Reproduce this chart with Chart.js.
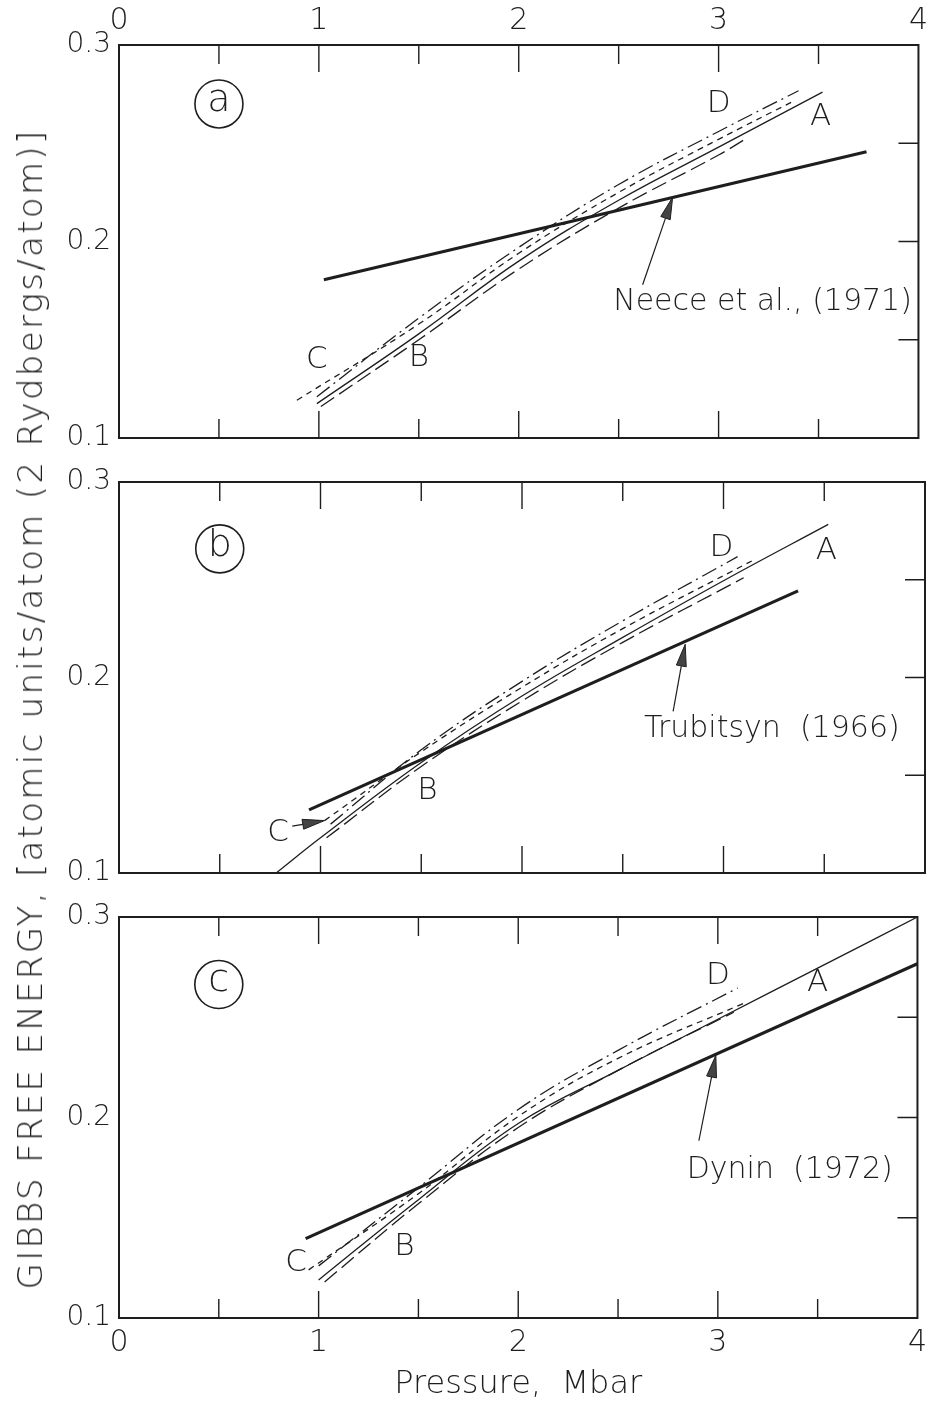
<!DOCTYPE html>
<html>
<head>
<meta charset="utf-8">
<title>Gibbs free energy vs pressure</title>
<script src="https://cdn.jsdelivr.net/npm/chart.js@4.4.0/dist/chart.umd.min.js"></script>
<style>
  html, body { margin: 0; padding: 0; background: #fff; }
  #page { position: relative; width: 937px; height: 1405px; overflow: hidden; background: #fff; }
  #page canvas { position: absolute; left: 0; }
  #yTitle {
    position: absolute; left: 30px; top: 709px;
    transform: translate(-50%, -50%) rotate(-90deg);
    white-space: nowrap; color: #1e1e1e;
    font: 200 34px 'DejaVu Sans', sans-serif;
    letter-spacing: 2.3px;
  }
</style>
</head>
<body>
<div id="page">
  <canvas id="panelA" width="937" height="460" style="top:0"></canvas>
  <canvas id="panelB" width="937" height="435" style="top:460px"></canvas>
  <canvas id="panelC" width="937" height="510" style="top:895px"></canvas>
  <div id="yTitle">GIBBS FREE ENERGY, [atomic units/atom (2 Rydbergs/atom)]</div>
</div>
<script>
// axis ticks: pressure in Mbar, energy in Ry/atom
const pressureLabels = [0, 1, 2, 3, 4];
const energyLabels = [0.1, 0.2, 0.3];

// (a) against Neece et al. (1971)
const aRefP = [1.025, 3.74];
const aRefG = [0.1805, 0.2457];
const aCurveAP = [0.99, 1.5, 2.0, 2.5, 3.0, 3.52];
const aCurveAG = [0.1175, 0.153, 0.190, 0.221, 0.248, 0.276];
const aCurveBP = [1.01, 1.5, 2.0, 2.5, 3.0, 3.14];
const aCurveBG = [0.116, 0.150, 0.186, 0.217, 0.244, 0.2525];
const aCurveCP = [0.89, 1.5, 2.0, 2.5, 3.0, 3.38];
const aCurveCG = [0.1192, 0.158, 0.194, 0.225, 0.252, 0.2717];
const aCurveDP = [0.99, 1.5, 2.0, 2.5, 3.0, 3.40];
const aCurveDG = [0.121, 0.161, 0.197, 0.229, 0.256, 0.2767];

// (b) against Trubitsyn (1966)
const bRefP = [0.943, 3.37];
const bRefG = [0.1323, 0.2443];
const bCurveAP = [0.78, 1.0, 1.5, 2.0, 2.5, 3.0, 3.52];
const bCurveAG = [0.100, 0.118, 0.1565, 0.1905, 0.2205, 0.2495, 0.2783];
const bCurveBP = [1.03, 1.5, 2.0, 2.5, 3.1];
const bCurveBG = [0.118, 0.1545, 0.188, 0.218, 0.251];
const bCurveCP = [1.02, 1.5, 2.0, 2.5, 3.14];
const bCurveCG = [0.1268, 0.162, 0.195, 0.225, 0.2596];
const bCurveDP = [1.05, 1.5, 2.0, 2.5, 3.07];
const bCurveDG = [0.125, 0.163, 0.198, 0.229, 0.2618];

// (c) against Dynin (1972)
const cRefP = [0.935, 4.0];
const cRefG = [0.1396, 0.2767];
const cCurveAP = [1.0, 1.5, 2.0, 2.5, 3.0, 3.5, 4.0];
const cCurveAG = [0.119, 0.159, 0.197, 0.2235, 0.249, 0.2745, 0.300];
const cCurveBP = [1.03, 1.5, 2.0, 2.5, 3.08];
const cCurveBG = [0.118, 0.157, 0.195, 0.2235, 0.2525];
const cCurveCP = [0.95, 1.5, 2.0, 2.5, 3.13];
const cCurveCG = [0.124, 0.162, 0.2005, 0.2295, 0.257];
const cCurveDP = [1.0, 1.5, 2.0, 2.5, 3.1];
const cCurveDG = [0.126, 0.165, 0.204, 0.2335, 0.2646];

const ink = '#1e1e1e';
const fontFamily = "'DejaVu Sans', sans-serif";
const lightWeight = 200;

function pts(ps, gs) {
    return ps.map((p, i) => ({ x: p, y: gs[i] }));
}

function curveSets(ref, a, b, c, d) {
    const thin = { borderColor: ink, borderWidth: 1.3, pointRadius: 0, tension: 0.4, fill: false };
    return [
        { ...thin, label: 'A', data: a },
        { ...thin, label: 'B', data: b, borderDash: [16, 6] },
        { ...thin, label: 'C', data: c, borderDash: [6, 5] },
        { ...thin, label: 'D', data: d, borderDash: [16, 5, 2, 5] },
        { ...thin, label: 'ref', data: ref, borderWidth: 3.2, tension: 0 }
    ];
}

function drawArrow(ctx, x0, y0, x1, y1) {
    const ang = Math.atan2(y1 - y0, x1 - x0);
    const cos = Math.cos(ang), sin = Math.sin(ang);
    const head = 22, half = 5;
    ctx.lineWidth = 1.2;
    ctx.beginPath();
    ctx.moveTo(x0, y0);
    ctx.lineTo(x1 - head * cos, y1 - head * sin);
    ctx.stroke();
    ctx.beginPath();
    ctx.moveTo(x1, y1);
    ctx.lineTo(x1 - head * cos - half * sin, y1 - head * sin + half * cos);
    ctx.lineTo(x1 - head * cos + half * sin, y1 - head * sin - half * cos);
    ctx.closePath();
    ctx.fillStyle = '#444';
    ctx.fill();
    ctx.lineWidth = 1;
    ctx.stroke();
}

// frame, inward ticks, circled panel tag, curve letters and reference note
const panelDecor = {
    id: 'panelDecor',
    afterDatasetsDraw(chart, args, opts) {
        const { ctx, chartArea: area, scales: { x, y } } = chart;
        const px = v => x.getPixelForValue(v);
        const py = v => y.getPixelForValue(v);
        ctx.save();
        ctx.strokeStyle = ink;
        ctx.fillStyle = ink;

        ctx.lineWidth = 2;
        ctx.strokeRect(area.left, area.top, area.right - area.left, area.bottom - area.top);

        ctx.lineWidth = 1.4;
        ctx.beginPath();
        x.ticks.forEach(t => {
            if (t.value <= x.min || t.value >= x.max) return;
            const len = Number.isInteger(t.value) ? 27 : 19;
            const xx = px(t.value);
            ctx.moveTo(xx, area.bottom);
            ctx.lineTo(xx, area.bottom - len);
            ctx.moveTo(xx, area.top);
            ctx.lineTo(xx, area.top + len);
        });
        y.ticks.forEach(t => {
            if (t.value <= y.min + 1e-9 || t.value >= y.max - 1e-9) return;
            const yy = py(t.value);
            ctx.moveTo(area.right, yy);
            ctx.lineTo(area.right - 20, yy);
        });
        ctx.stroke();

        ctx.textAlign = 'center';
        ctx.textBaseline = 'middle';

        const [tx, ty] = opts.tag.at;
        ctx.lineWidth = 1.6;
        ctx.beginPath();
        ctx.arc(px(tx), py(ty), 24, 0, Math.PI * 2);
        ctx.stroke();
        ctx.font = `${lightWeight} 38px ${fontFamily}`;
        ctx.fillText(opts.tag.text, px(tx), py(ty) - 3);

        ctx.font = `${lightWeight} 31px ${fontFamily}`;
        opts.letters.forEach(([txt, lx, ly]) => ctx.fillText(txt, px(lx), py(ly)));

        ctx.font = `${lightWeight} 30px ${fontFamily}`;
        ctx.fillText(opts.note.text, px(opts.note.at[0]), py(opts.note.at[1]));

        ctx.strokeStyle = ink;
        opts.arrows.forEach(([x0, y0, x1, y1]) => {
            ctx.fillStyle = ink;
            drawArrow(ctx, px(x0), py(y0), px(x1), py(y1));
        });
        ctx.restore();
    }
};

function buildPanel(id, cfg) {
    return new Chart(document.getElementById(id), {
        type: 'line',
        data: { datasets: cfg.datasets },
        options: {
            responsive: false,
            animation: false,
            events: [],
            layout: { padding: cfg.padding },
            plugins: {
                legend: { display: false },
                tooltip: { enabled: false },
                panelDecor: cfg.decor
            },
            scales: {
                x: {
                    type: 'linear',
                    min: 0,
                    max: 4,
                    position: cfg.xPosition || 'bottom',
                    display: cfg.showX,
                    grid: { display: false, drawTicks: false },
                    border: { display: false },
                    ticks: {
                        stepSize: 0.5,
                        autoSkip: false,
                        maxRotation: 0,
                        padding: cfg.xPad,
                        color: ink,
                        font: { family: fontFamily, size: 30, weight: lightWeight, lineHeight: 1 },
                        callback: v => pressureLabels.includes(v) ? String(v) : ''
                    },
                    title: cfg.xTitle || { display: false },
                    afterFit: s => { s.height = cfg.xHeight; }
                },
                y: {
                    type: 'linear',
                    min: 0.1,
                    max: 0.3,
                    grid: { display: false, drawTicks: false },
                    border: { display: false },
                    ticks: {
                        stepSize: 0.05,
                        autoSkip: false,
                        padding: 8,
                        color: ink,
                        font: { family: fontFamily, size: 28, weight: lightWeight, lineHeight: 1 },
                        callback: v => {
                            const r = Math.round(v * 100) / 100;
                            return energyLabels.includes(r) ? r.toFixed(1) : '';
                        }
                    },
                    afterFit: s => { s.width = 119; }
                }
            }
        },
        plugins: [panelDecor]
    });
}

buildPanel('panelA', {
    datasets: curveSets(pts(aRefP, aRefG), pts(aCurveAP, aCurveAG), pts(aCurveBP, aCurveBG),
        pts(aCurveCP, aCurveCG), pts(aCurveDP, aCurveDG)),
    padding: { top: 0, right: 12, bottom: 15, left: 0 },
    xPosition: 'top',
    showX: true,
    xPad: 9,
    xHeight: 45,
    decor: {
        tag: { text: 'a', at: [0.5, 0.27] },
        letters: [['D', 3.0, 0.27], ['A', 3.51, 0.2635], ['C', 0.99, 0.1395], ['B', 1.5, 0.1405]],
        note: { text: 'Neece et al., (1971)', at: [3.22, 0.169] },
        arrows: [[2.62, 0.178, 2.77, 0.2225]]
    }
});

buildPanel('panelB', {
    datasets: curveSets(pts(bRefP, bRefG), pts(bCurveAP, bCurveAG), pts(bCurveBP, bCurveBG),
        pts(bCurveCP, bCurveCG), pts(bCurveDP, bCurveDG)),
    padding: { top: 16, right: 12, bottom: 16, left: 0 },
    showX: false,
    xPad: 0,
    xHeight: 0,
    decor: {
        tag: { text: 'b', at: [0.5, 0.2658] },
        letters: [['D', 2.99, 0.2662], ['A', 3.51, 0.2646], ['B', 1.53, 0.142], ['C', 0.79, 0.1205]],
        note: { text: 'Trubitsyn  (1966)', at: [3.24, 0.1735] },
        arrows: [[2.75, 0.1827, 2.81, 0.217], [0.86, 0.124, 1.02, 0.1268]]
    }
});

buildPanel('panelC', {
    datasets: curveSets(pts(cRefP, cRefG), pts(cCurveAP, cCurveAG), pts(cCurveBP, cCurveBG),
        pts(cCurveCP, cCurveCG), pts(cCurveDP, cCurveDG)),
    padding: { top: 19, right: 12, bottom: 0, left: 0 },
    showX: true,
    xPad: 10,
    xHeight: 87,
    xTitle: {
        display: true,
        text: 'Pressure,  Mbar',
        color: ink,
        font: { family: fontFamily, size: 32, weight: lightWeight, lineHeight: 1.2 },
        padding: { top: 0, bottom: 1 }
    },
    decor: {
        tag: { text: 'c', at: [0.5, 0.2663] },
        letters: [['D', 3.0, 0.2704], ['A', 3.5, 0.267], ['B', 1.43, 0.1354], ['C', 0.887, 0.1273]],
        note: { text: 'Dynin  (1972)', at: [3.36, 0.1735] },
        arrows: [[2.905, 0.1884, 2.99, 0.231]]
    }
});
</script>
</body>
</html>
